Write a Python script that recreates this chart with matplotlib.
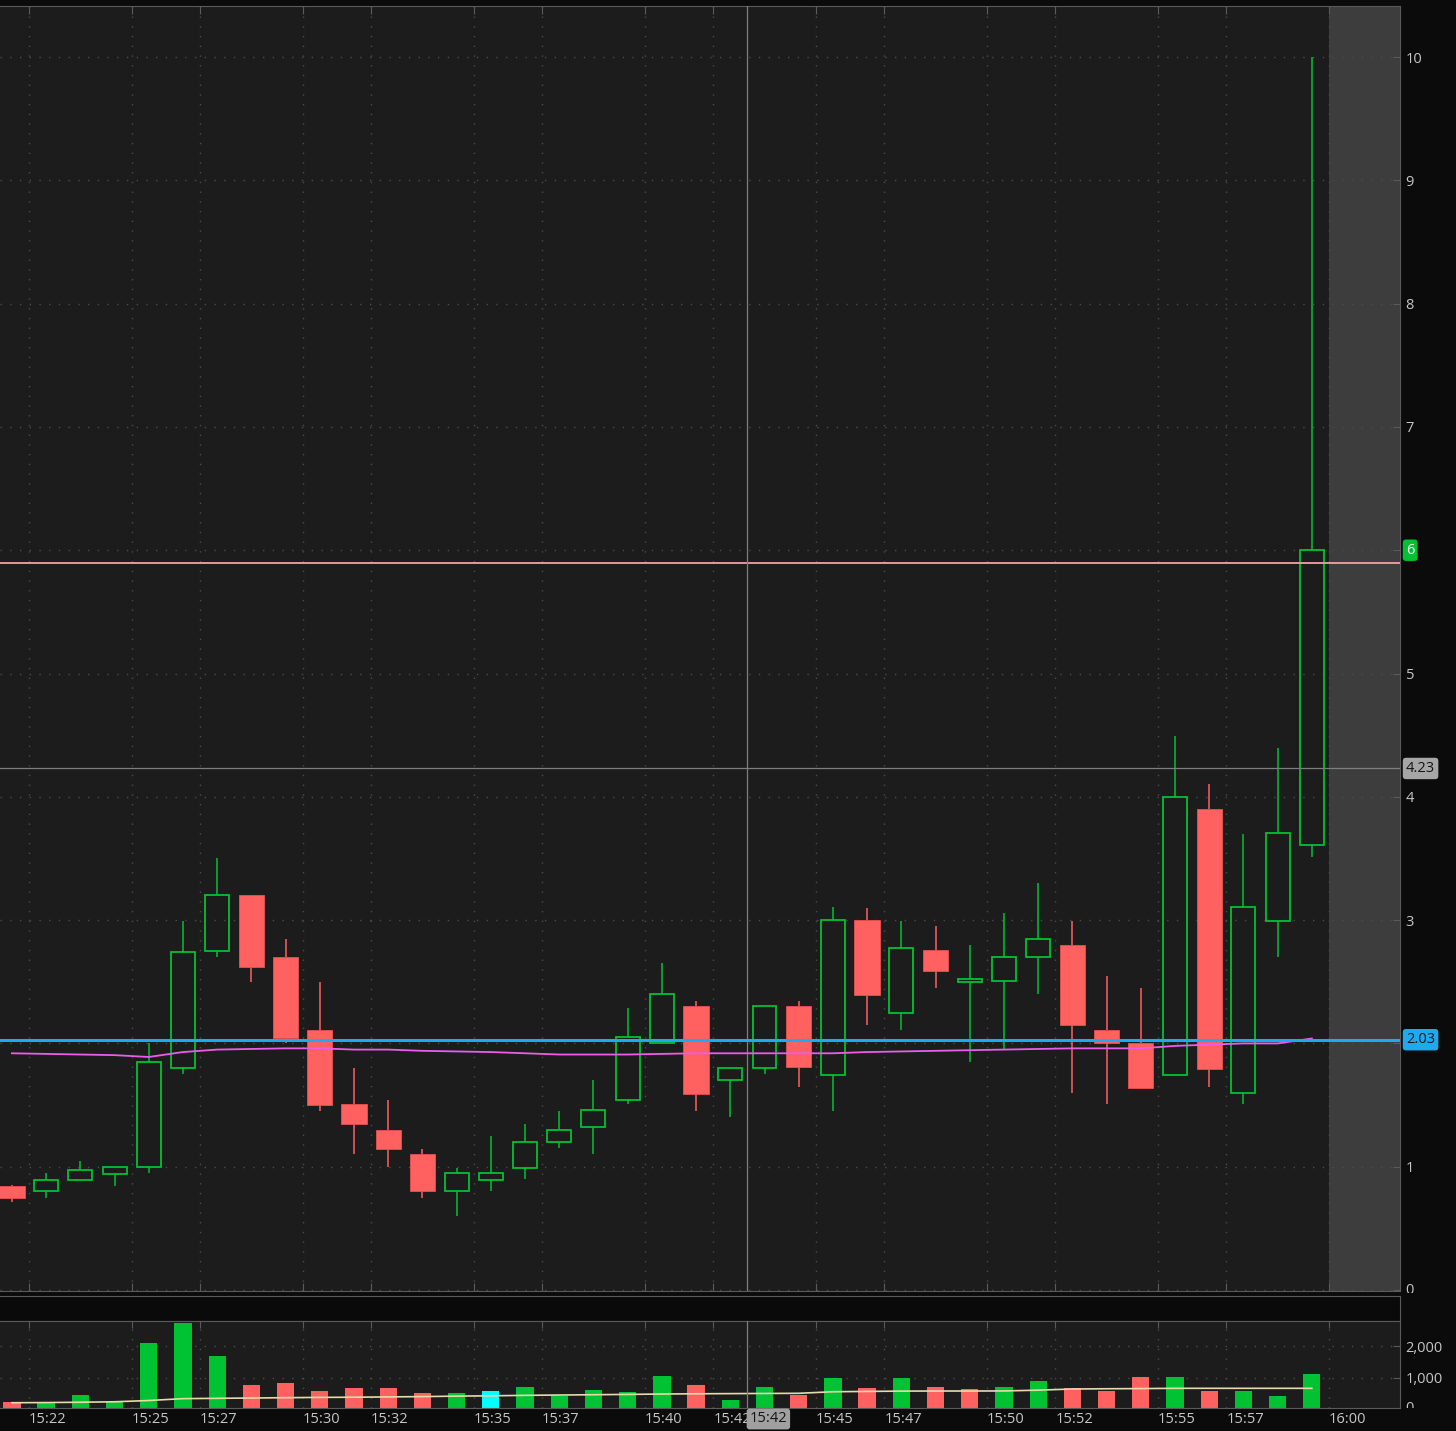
import numpy as np
import matplotlib.pyplot as plt
from matplotlib.transforms import Bbox, TransformedBbox, blended_transform_factory

plt.rcParams['font.family'] = ['Open Sans', 'DejaVu Sans']

# one-minute bars
times = ["15:21", "15:22", "15:23", "15:24", "15:25", "15:26", "15:27", "15:28",
         "15:29", "15:30", "15:31", "15:32", "15:33", "15:34", "15:35", "15:36",
         "15:37", "15:38", "15:39", "15:40", "15:41", "15:42", "15:43", "15:44",
         "15:45", "15:46", "15:47", "15:48", "15:49", "15:50", "15:51", "15:52",
         "15:53", "15:54", "15:55", "15:56", "15:57", "15:58", "15:59"]
opens = [0.84, 0.80, 0.89, 0.94, 1.00, 1.80, 2.75, 3.20, 2.70, 2.11, 1.51, 1.30, 1.10,
         0.80, 0.89, 0.99, 1.20, 1.32, 1.54, 2.00, 2.30, 1.70, 1.80, 2.30, 1.74, 3.00,
         2.25, 2.76, 2.50, 2.51, 2.70, 2.80, 2.11, 2.00, 1.74, 3.90, 1.60, 2.99, 3.61]
highs = [0.85, 0.95, 1.05, 1.00, 2.00, 2.99, 3.50, 3.20, 2.85, 2.50, 1.80, 1.54, 1.14,
         0.99, 1.25, 1.35, 1.45, 1.70, 2.29, 2.65, 2.34, 1.80, 2.30, 2.34, 3.11, 3.10,
         2.99, 2.95, 2.80, 3.06, 3.30, 2.99, 2.55, 2.45, 4.49, 4.10, 3.70, 4.40, 10.00]
lows = [0.71, 0.75, 0.89, 0.84, 0.95, 1.75, 2.70, 2.50, 2.00, 1.45, 1.10, 1.00, 0.75,
        0.60, 0.80, 0.90, 1.15, 1.10, 1.51, 2.00, 1.45, 1.40, 1.75, 1.65, 1.45, 2.15,
        2.11, 2.45, 1.85, 1.95, 2.40, 1.60, 1.51, 1.64, 1.74, 1.65, 1.51, 2.70, 3.51]
closes = [0.75, 0.89, 0.97, 1.00, 1.85, 2.74, 3.20, 2.62, 2.04, 1.50, 1.35, 1.14, 0.80,
          0.95, 0.95, 1.20, 1.30, 1.46, 2.05, 2.40, 1.59, 1.80, 2.30, 1.81, 3.00, 2.39,
          2.77, 2.59, 2.52, 2.70, 2.85, 2.15, 2.00, 1.64, 4.00, 1.79, 3.11, 3.71, 6.00]
volumes = [220, 190, 450, 250, 2090, 2730, 1690, 760, 820, 570, 660, 660, 500, 500, 570,
           690, 420, 620, 530, 1050, 770, 300, 690, 450, 980, 660, 980, 700, 630, 690,
           890, 660, 570, 1020, 1020, 570, 570, 410, 1120]
vol_side = ["dn", "up", "up", "up", "up", "up", "up", "dn", "dn", "dn", "dn", "dn", "dn",
            "up", "flag", "up", "up", "up", "up", "up", "dn", "up", "up", "dn", "up", "dn",
            "up", "dn", "dn", "up", "up", "dn", "dn", "dn", "up", "dn", "up", "up", "up"]
vol_avg = [200, 205, 215, 230, 270, 330, 340, 350, 360, 370, 375, 385, 395, 410, 420,
           435, 445, 455, 465, 477, 485, 490, 495, 500, 550, 560, 570, 573, 573, 575,
           600, 637, 645, 650, 659, 659, 659, 659, 659]
vwap = [1.92, 1.915, 1.91, 1.905, 1.89, 1.93, 1.95, 1.955, 1.96, 1.96, 1.95, 1.95, 1.94,
        1.935, 1.93, 1.92, 1.91, 1.91, 1.91, 1.915, 1.92, 1.92, 1.92, 1.92, 1.92, 1.93,
        1.935, 1.94, 1.945, 1.95, 1.955, 1.96, 1.96, 1.96, 1.98, 1.99, 2.0, 2.0, 2.04]

tick_times = ["15:22", "15:25", "15:27", "15:30", "15:32", "15:35", "15:37", "15:40",
              "15:42", "15:45", "15:47", "15:50", "15:52", "15:55", "15:57", "16:00"]
price_ticks = [0, 1, 2, 3, 4, 5, 6, 7, 8, 9, 10]
vol_ticks = [1000, 2000]
vol_tick_labels = ["1,000", "2,000"]

level_line = 5.9
support_line = 2.03
last_price = 6
cursor_price = 4.23
cursor_time = "15:42:59"
cursor_label = "15:42"
session_end = "16:00"

BG = '#1c1c1c'
OUT = '#0b0b0b'
GRID = '#4c4c4c'
SPINE = '#5a5a5a'
TXT = '#c6c6c6'
UP = '#00c232'
DN = '#ff6060'
side_colors = {"up": UP, "dn": DN, "flag": '#00ffff'}


def to_min(t):
    parts = t.split(":")
    m = (int(parts[0]) - 15) * 60 + int(parts[1])
    if len(parts) > 2:
        m += int(parts[2]) / 60
    return m


x = np.array([to_min(t) for t in times]) + 0.5
o = np.array(opens)
h = np.array(highs)
l = np.array(lows)
c = np.array(closes)
top = np.maximum(o, c)
bot = np.minimum(o, c)
up = c >= o

W, H = 1456, 1431


def fbox(left, ttop, right, bottom):
    return [left / W, 1 - bottom / H, (right - left) / W, (bottom - ttop) / H]


fig = plt.figure(figsize=(W / 100, H / 100), dpi=100, facecolor=OUT)
ax = fig.add_axes(fbox(0, 6, 1400, 1291))
sep = fig.add_axes(fbox(0, 1296, 1400, 1321))
axv = fig.add_axes(fbox(0, 1321, 1400, 1408))

xmin, xmax = 21.152, 62.077
tick_x = [to_min(t) for t in tick_times]

for a in (ax, sep, axv):
    a.set_facecolor(BG)
    a.set_xlim(xmin, xmax)
    for s in a.spines.values():
        s.set_color(SPINE)
    a.spines['left'].set_visible(False)
sep.set_facecolor('#0a0a0a')
sep.set_xticks([])
sep.set_yticks([])

# price panel
ax.set_ylim(-0.008, 10.414)
ax.axvspan(to_min(session_end), xmax, color='#3d3d3d', zorder=0, lw=0)
ax.set_xticks(tick_x)
ax.set_yticks(price_ticks)
ax.set_yticklabels(['' if p == 0 else str(p) for p in price_ticks])
ax.grid(True, linestyle=(0, (1, 6)), color=GRID, lw=1.0)
ax.set_axisbelow(True)
ax.tick_params(axis='x', direction='in', top=True, bottom=True, length=6,
               color=SPINE, labelbottom=False)
ax.tick_params(axis='y', direction='in', left=False, right=True, labelleft=False,
               labelright=True, length=5, color=SPINE, labelcolor=TXT,
               labelsize=10.5, pad=4)

# candles
ax.vlines(x, top, h, color=np.where(up, UP, DN), lw=1.1, zorder=2)
ax.vlines(x, l, bot, color=np.where(up, UP, DN), lw=1.1, zorder=2)
ax.bar(x[~up], (top - bot)[~up], bottom=bot[~up], width=0.74, color=DN,
       edgecolor='#e85050', lw=0.6, zorder=3)
ax.bar(x[up], np.maximum(top - bot, 0.02)[up], bottom=bot[up], width=0.70,
       facecolor='none', edgecolor=UP, lw=1.3, zorder=3)

ax.axhline(level_line, color='#f0a4a4', lw=1.3, zorder=4)
ax.axhline(cursor_price, color='#7e7e7e', lw=0.9, zorder=4)
ax.axvline(to_min(cursor_time), color='#7e7e7e', lw=0.9, zorder=4)
ax.plot(x, vwap, color='#ec5cec', lw=1.3, zorder=5)
ax.axhline(support_line, color='#1eaaee', lw=2.2, zorder=6)

yb = blended_transform_factory(ax.transAxes, ax.transData)
ax.text(1406 / 1400, last_price, str(last_price), transform=yb, va='center', ha='left',
        fontsize=10.5, color='white', zorder=10, clip_on=False,
        bbox=dict(boxstyle='round,pad=0.22', fc='#00c232', ec='none'))
ax.text(1406 / 1400, cursor_price, f"{cursor_price:.2f}", transform=yb, va='center',
        ha='left', fontsize=10.5, color='#151515', zorder=10, clip_on=False,
        bbox=dict(boxstyle='round,pad=0.22', fc='#a6a6a6', ec='none'))
ax.text(1406 / 1400, support_line, f"{support_line:.2f}", transform=yb, va='center',
        ha='left', fontsize=10.5, color='#151515', zorder=10, clip_on=False,
        bbox=dict(boxstyle='round,pad=0.22', fc='#1eaaee', ec='none'))

# half-hidden zero labels
z = fig.text(1405 / W, 1 - 1290 / H, "0", va='center', ha='left', fontsize=10.5, color=TXT)
z.set_clip_box(TransformedBbox(Bbox.from_extents(1400 / W, 1 - 1293 / H, 1, 1 - 1280 / H),
                               fig.transFigure))
z.set_clip_on(True)
z2 = fig.text(1405 / W, 1 - 1409 / H, "0", va='center', ha='left', fontsize=10.5, color=TXT)
z2.set_clip_box(TransformedBbox(Bbox.from_extents(1400 / W, 1 - 1408 / H, 1, 1 - 1395 / H),
                                fig.transFigure))
z2.set_clip_on(True)

# volume panel
axv.set_ylim(32, 2803)
axv.set_xticks(tick_x)
axv.set_xticklabels(tick_times, ha='left')
axv.set_yticks(vol_ticks)
axv.set_yticklabels(vol_tick_labels)
axv.grid(True, linestyle=(0, (1, 6)), color=GRID, lw=1.0)
axv.set_axisbelow(True)
axv.tick_params(axis='x', direction='in', top=True, bottom=False, length=5, color=SPINE,
                labelcolor=TXT, labelsize=10.5, pad=3)
axv.tick_params(axis='y', direction='in', left=False, right=True, labelleft=False,
                labelright=True, length=5, color=SPINE, labelcolor=TXT,
                labelsize=10.5, pad=4)
axv.bar(x, volumes, width=0.505, color=[side_colors[s] for s in vol_side], zorder=2)
axv.plot(x, vol_avg, color='#e6dcaa', lw=1.2, zorder=3)
axv.axvline(to_min(cursor_time), color='#7e7e7e', lw=0.9, zorder=4)

xb = blended_transform_factory(axv.transData, fig.transFigure)
axv.text(to_min(cursor_time) + 0.08, 1 - 1419 / H, cursor_label, transform=xb,
         va='center', ha='left', fontsize=10.5, color='#151515', zorder=10,
         clip_on=False, bbox=dict(boxstyle='round,pad=0.2', fc='#a0a0a0', ec='none'))

fig.savefig('out.png', dpi=100, facecolor=OUT)
